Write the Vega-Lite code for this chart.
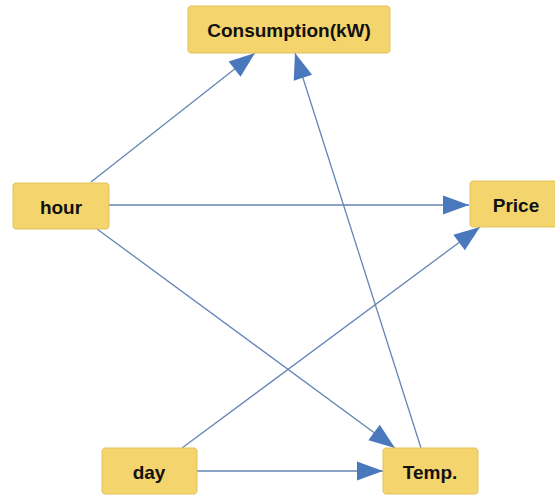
{
  "$schema": "https://vega.github.io/schema/vega-lite/v6.json",
  "width": 555,
  "height": 497,
  "padding": 0,
  "autosize": {"type": "fit", "contains": "padding"},
  "background": "white",
  "config": {"view": {"stroke": null}},
  "datasets": {
    "nodes": [
      {"name": "Consumption(kW)", "left": 188, "right": 390, "top": 6, "bottom": 53, "cx": 289, "cy": 31},
      {"name": "hour", "left": 13, "right": 109, "top": 183, "bottom": 229, "cx": 61, "cy": 208},
      {"name": "Price", "left": 470, "right": 562, "top": 181, "bottom": 227, "cx": 516, "cy": 206},
      {"name": "day", "left": 102, "right": 197, "top": 448, "bottom": 494, "cx": 149, "cy": 473},
      {"name": "Temp.", "left": 383, "right": 478, "top": 448, "bottom": 494, "cx": 430, "cy": 473}
    ],
    "edges": [
      {"from": "hour", "to": "Consumption(kW)", "x1": 91, "y1": 182, "x2": 255, "y2": 53},
      {"from": "hour", "to": "Price", "x1": 109, "y1": 205, "x2": 469, "y2": 205},
      {"from": "hour", "to": "Temp.", "x1": 97, "y1": 229, "x2": 395, "y2": 448},
      {"from": "day", "to": "Price", "x1": 182, "y1": 448, "x2": 480, "y2": 227},
      {"from": "day", "to": "Temp.", "x1": 197, "y1": 471, "x2": 383, "y2": 471},
      {"from": "Temp.", "to": "Consumption(kW)", "x1": 421, "y1": 448, "x2": 295, "y2": 53}
    ]
  },
  "layer": [
    {
      "data": {"name": "edges"},
      "mark": {"type": "rule", "color": "#6585b5", "strokeWidth": 1.3},
      "encoding": {
        "x": {"field": "x1", "type": "quantitative", "scale": {"domain": [0, 555], "nice": false, "zero": false}, "axis": null},
        "y": {"field": "y1", "type": "quantitative", "scale": {"domain": [0, 497], "nice": false, "zero": false, "reverse": true}, "axis": null},
        "x2": {"field": "x2"},
        "y2": {"field": "y2"}
      }
    },
    {
      "data": {"name": "edges"},
      "mark": {
        "type": "point",
        "filled": true,
        "opacity": 1,
        "color": "#4a78bd",
        "strokeWidth": 0,
        "shape": "M0,0L-1,-0.37L-1,0.37Z",
        "size": 2704,
        "angle": {"expr": "atan2(datum.y2 - datum.y1, datum.x2 - datum.x1) * 180 / PI"}
      },
      "encoding": {
        "x": {"field": "x2", "type": "quantitative", "scale": {"domain": [0, 555], "nice": false, "zero": false}, "axis": null},
        "y": {"field": "y2", "type": "quantitative", "scale": {"domain": [0, 497], "nice": false, "zero": false, "reverse": true}, "axis": null}
      }
    },
    {
      "data": {"name": "nodes"},
      "mark": {"type": "rect", "fill": "#f4d46c", "stroke": "#e2c25a", "strokeWidth": 1, "cornerRadius": 3, "clip": true},
      "encoding": {
        "x": {"field": "left", "type": "quantitative", "scale": {"domain": [0, 555], "nice": false, "zero": false}, "axis": null},
        "x2": {"field": "right"},
        "y": {"field": "top", "type": "quantitative", "scale": {"domain": [0, 497], "nice": false, "zero": false, "reverse": true}, "axis": null},
        "y2": {"field": "bottom"}
      }
    },
    {
      "data": {"name": "nodes"},
      "mark": {"type": "text", "font": "Liberation Sans", "fontWeight": "bold", "fontSize": 19, "color": "#111111", "align": "center", "baseline": "middle"},
      "encoding": {
        "x": {"field": "cx", "type": "quantitative", "scale": {"domain": [0, 555], "nice": false, "zero": false}, "axis": null},
        "y": {"field": "cy", "type": "quantitative", "scale": {"domain": [0, 497], "nice": false, "zero": false, "reverse": true}, "axis": null},
        "text": {"field": "name"}
      }
    }
  ]
}
